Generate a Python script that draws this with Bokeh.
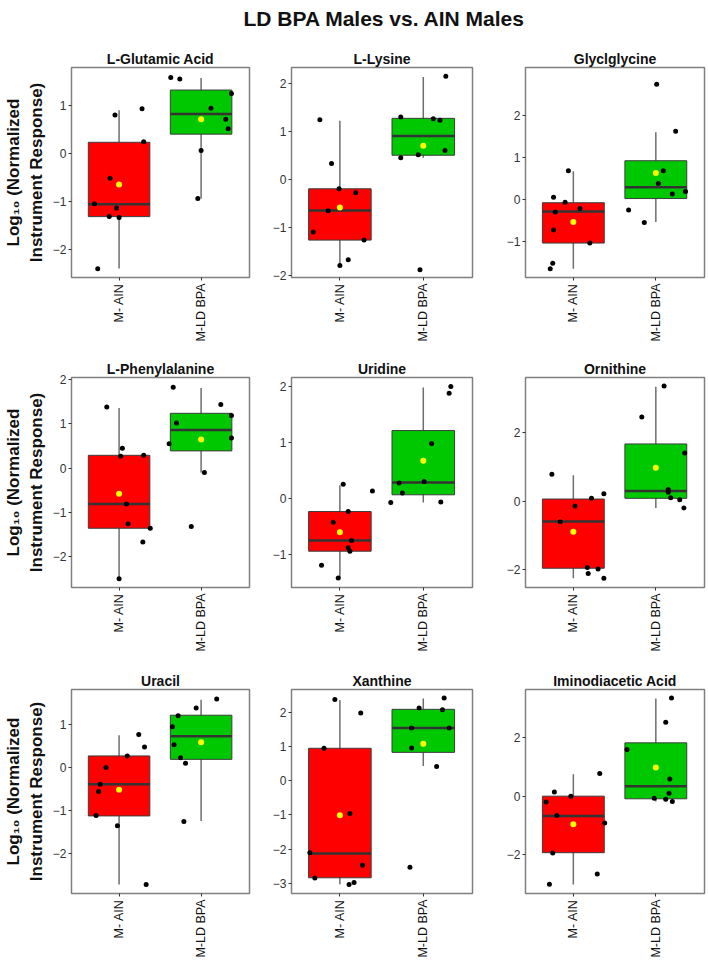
import math
from bokeh.plotting import figure
from bokeh.layouts import column, row
from bokeh.models import Range1d, FixedTicker, ColumnDataSource
from bokeh.core.properties import value
from bokeh.embed import file_html
from bokeh.resources import INLINE

# ---------------- data ----------------
main_title = "LD BPA Males vs. AIN Males"
titles = ["L-Glutamic Acid", "L-Lysine", "Glyclglycine",
          "L-Phenylalanine", "Uridine", "Ornithine",
          "Uracil", "Xanthine", "Iminodiacetic Acid"]
groups = ["M- AIN", "M-LD BPA"]
y_label = "Log\u2081\u2080 (Normalized\nInstrument Response)"

# box statistics per panel: lower whisker, q1, median, q3, upper whisker, mean
ain_lo   = [-2.39, -1.80, -1.65, -2.50, -1.43, -2.24, -2.73, -3.03, -3.03]
ain_q1   = [-1.31, -1.27, -1.04, -1.36, -0.94, -1.95, -1.13, -2.84, -1.94]
ain_med  = [-1.05, -0.65, -0.29, -0.81, -0.75, -0.59, -0.39, -2.13, -0.68]
ain_q3   = [0.24, -0.20, -0.08, 0.29, -0.23, 0.06, 0.27, 0.95, 0.00]
ain_hi   = [0.91, 1.22, 0.67, 1.36, 0.24, 0.75, 0.75, 2.36, 0.75]
ain_mean = [-0.64, -0.59, -0.54, -0.58, -0.60, -0.89, -0.52, -1.01, -0.96]

bpa_lo   = [-0.93, 0.45, -0.54, -0.10, -0.07, -0.20, -1.25, 0.43, -0.18]
bpa_q1   = [0.41, 0.50, 0.02, 0.39, 0.07, 0.08, 0.19, 0.83, -0.09]
bpa_med  = [0.83, 0.90, 0.29, 0.86, 0.29, 0.29, 0.73, 1.54, 0.34]
bpa_q3   = [1.33, 1.27, 0.92, 1.24, 1.22, 1.66, 1.22, 2.09, 1.83]
bpa_hi   = [1.58, 2.13, 1.60, 1.81, 1.99, 3.32, 1.58, 2.41, 3.35]
bpa_mean = [0.72, 0.70, 0.63, 0.65, 0.68, 0.97, 0.59, 1.08, 0.98]

# individual samples (values) and their horizontal jitter (in category units)
ain_vals = [
    [-2.40, 0.81, 0.94, 0.25, -0.51, -1.04, -1.13, -1.31, -1.33],
    [1.24, 0.33, -0.20, -0.28, -0.66, -1.10, -1.27, -1.68, -1.80],
    [0.68, 0.05, -0.07, -0.22, -0.30, -0.73, -1.04, -1.52, -1.65],
    [1.38, 0.45, 0.27, 0.29, -0.81, -1.26, -1.36, -1.67, -2.50],
    [0.26, 0.14, -0.23, -0.42, -0.75, -0.88, -0.94, -1.19, -1.42],
    [0.78, 0.21, 0.08, -0.14, -0.60, -1.93, -1.97, -2.10, -2.24],
    [0.77, 0.48, 0.27, 0.00, -0.39, -0.56, -1.12, -1.36, -2.73],
    [2.38, 1.98, 0.95, -0.96, -2.11, -2.47, -2.85, -2.98, -3.04],
    [0.78, 0.14, 0.00, -0.20, -0.66, -0.92, -1.95, -2.67, -3.02],
]
ain_jit = [
    [-0.26, -0.05, 0.28, 0.30, -0.11, -0.30, -0.03, -0.12, 0.00],
    [-0.24, -0.10, -0.01, 0.19, -0.14, -0.32, 0.29, 0.10, 0.00],
    [-0.06, -0.24, -0.10, 0.08, -0.22, -0.24, 0.20, -0.25, -0.28],
    [-0.15, 0.04, 0.02, 0.30, 0.09, 0.11, 0.38, 0.29, 0.00],
    [0.04, 0.39, 0.10, -0.08, 0.14, 0.10, 0.12, -0.22, -0.02],
    [-0.26, 0.37, 0.22, 0.02, -0.16, 0.17, 0.30, 0.18, 0.37],
    [0.24, 0.31, 0.10, -0.16, -0.23, -0.25, -0.28, -0.02, 0.33],
    [-0.06, 0.25, -0.19, 0.12, -0.36, 0.27, -0.30, 0.17, 0.11],
    [0.32, -0.23, -0.03, -0.33, -0.20, 0.38, -0.25, 0.29, -0.29],
]
bpa_vals = [
    [1.59, 1.56, 1.26, 0.95, 0.72, 0.52, 0.07, -0.93],
    [2.15, 1.30, 1.26, 1.23, 0.60, 0.51, 0.45, -1.89],
    [2.74, 1.62, 0.68, 0.38, 0.13, 0.19, -0.25, -0.55],
    [1.83, 1.44, 1.19, 1.02, 0.68, 0.55, -0.10, -1.32],
    [2.01, 1.89, 0.99, 0.31, 0.28, 0.10, -0.07, -0.06],
    [3.34, 2.44, 1.40, 0.34, 0.26, 0.10, 0.04, -0.20],
    [1.60, 1.39, 1.21, 0.95, 0.53, 0.23, 0.10, -1.26],
    [2.42, 2.13, 2.08, 1.54, 1.54, 0.96, 0.42, -2.53],
    [3.37, 2.54, 1.60, 0.59, 0.10, -0.07, -0.11, -0.18],
]
bpa_jit = [
    [-0.37, -0.26, 0.37, 0.12, 0.30, 0.33, 0.00, -0.04],
    [0.27, -0.27, 0.12, 0.20, 0.26, -0.06, -0.27, -0.04],
    [0.01, 0.24, 0.09, 0.03, 0.20, 0.36, -0.33, -0.14],
    [-0.34, 0.24, 0.37, -0.30, 0.37, -0.39, 0.04, -0.12],
    [0.33, 0.31, 0.10, 0.01, -0.29, -0.25, -0.39, 0.21],
    [0.10, -0.17, 0.35, 0.15, 0.15, 0.18, 0.29, 0.34],
    [0.19, -0.06, -0.28, -0.35, -0.33, -0.25, -0.19, -0.21],
    [0.25, -0.05, 0.23, -0.14, 0.31, -0.14, 0.16, -0.16],
    [0.19, 0.12, -0.35, 0.17, 0.16, -0.02, 0.12, 0.20],
]

y_limits = [(-2.58, 1.80), (-2.05, 2.33), (-1.86, 3.14),
            (-2.70, 2.05), (-1.59, 2.17), (-2.51, 3.59),
            (-2.94, 1.82), (-3.30, 2.67), (-3.34, 3.66)]
y_ticks = [[-2, -1, 0, 1], [-2, -1, 0, 1, 2], [-1, 0, 1, 2],
           [-2, -1, 0, 1, 2], [-1, 0, 1, 2], [-2, 0, 2],
           [-2, -1, 0, 1], [-3, -2, -1, 0, 1, 2], [-2, 0, 2]]

# ---------------- style ----------------
FONT = "Liberation Sans"
BOX_W = 0.75
COLORS = ["#FF0000", "#00C800"]
POS = [1, 2]

# layout: column sizes (width, border_left, border_right), row sizes (height, border_top, border_bottom)
COLS = [(266, 71, 17), (230, 25, 24), (210, 29, 2)]
ROWS = [(307, 27, 70), (312, 30, 72), (301, 30, 64)]
TOP_OVERRIDE = {2: 21}


def panel(i, col, rw):
    w, bl, br = COLS[col]
    h, bt, bb = rw
    bt = TOP_OVERRIDE.get(i, bt)
    p = figure(width=w, height=h, output_backend="svg", toolbar_location=None,
               x_range=Range1d(0.42, 2.59), y_range=Range1d(*y_limits[i]),
               min_border_left=bl, min_border_right=br,
               min_border_top=bt, min_border_bottom=bb,
               title=titles[i])
    p.title.align = "center"
    p.title.text_font = FONT
    p.title.text_font_size = "14px"
    p.title.text_font_style = "bold"
    p.title.text_color = "#111111"
    p.title.standoff = 2
    p.grid.visible = False
    p.outline_line_color = "#808080"
    p.outline_line_width = 1.5

    stats = [
        (ain_lo[i], ain_q1[i], ain_med[i], ain_q3[i], ain_hi[i], ain_mean[i], ain_vals[i], ain_jit[i]),
        (bpa_lo[i], bpa_q1[i], bpa_med[i], bpa_q3[i], bpa_hi[i], bpa_mean[i], bpa_vals[i], bpa_jit[i]),
    ]
    for g, (lo, q1, md, q3, hi, mn, vals, jit) in enumerate(stats):
        x = POS[g]
        p.segment(x0=[x], x1=[x], y0=[lo], y1=[hi], line_color="#6e6e6e", line_width=1.5)
        p.vbar(x=[x], width=BOX_W, bottom=[q1], top=[q3], fill_color=COLORS[g],
               line_color="#3c3c3c", line_width=1)
        p.segment(x0=[x - BOX_W / 2], x1=[x + BOX_W / 2], y0=[md], y1=[md],
                  line_color="#333333", line_width=2.5)
        src = ColumnDataSource(dict(x=[x + j for j in jit], y=vals))
        p.scatter("x", "y", source=src, size=5, fill_color="black", line_color=None)
        p.scatter(x=[x], y=[mn], size=6, fill_color="#FFFF00", line_color=None)

    xa = p.xaxis[0]
    xa.ticker = FixedTicker(ticks=POS)
    xa.major_label_overrides = {POS[k]: groups[k] for k in range(2)}
    xa.major_label_orientation = math.pi / 2
    xa.minor_tick_line_color = None
    xa.axis_line_color = None
    xa.major_tick_out = 3
    xa.major_tick_in = 0
    xa.major_tick_line_color = "#333333"
    xa.major_label_text_font = FONT
    xa.major_label_text_font_size = "12.5px"
    xa.major_label_text_color = "#111111"
    xa.major_label_standoff = 3

    ya = p.yaxis[0]
    ya.ticker = FixedTicker(ticks=y_ticks[i])
    ya.minor_tick_line_color = None
    ya.axis_line_color = None
    ya.major_tick_out = 3
    ya.major_tick_in = 0
    ya.major_tick_line_color = "#333333"
    ya.major_label_text_font = FONT
    ya.major_label_text_font_size = "12px"
    ya.major_label_text_color = "#333333"
    ya.major_label_standoff = 2
    if col == 0:
        ya.axis_label = y_label
        ya.axis_label_text_font = FONT
        ya.axis_label_text_font_size = "17px"
        ya.axis_label_text_font_style = "bold"
        ya.axis_label_text_color = "#111111"
        ya.axis_label_standoff = 4
    return p


head = figure(width=706, height=40, output_backend="svg", toolbar_location=None,
              x_range=Range1d(0, 706), y_range=Range1d(0, 40),
              x_axis_location=None, y_axis_location=None, min_border=0)
head.grid.visible = False
head.outline_line_color = None
head.text(x=[384], y=[22], text=[main_title], text_align="center",
          text_baseline="middle", text_font=value(FONT), text_font_size="21px",
          text_font_style="bold", text_color="#111111")

rows = []
for r in range(3):
    rows.append(row(*[panel(r * 3 + c, c, ROWS[r]) for c in range(3)]))

layout = column(head, *rows)
open("out.html", "w").write(file_html(layout, INLINE))
